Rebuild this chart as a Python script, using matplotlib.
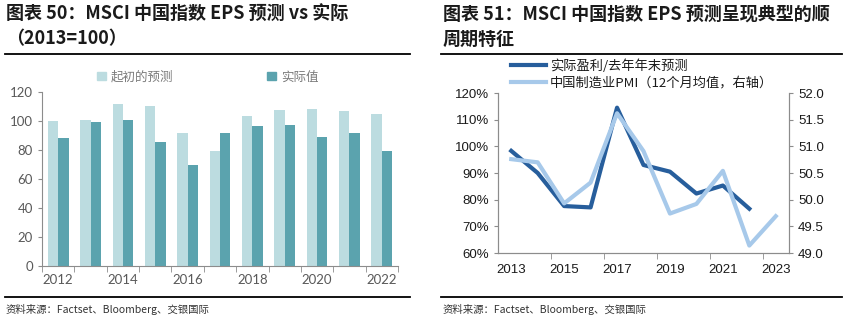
import matplotlib
matplotlib.use("Agg")
import matplotlib.pyplot as plt
from matplotlib.lines import Line2D
from matplotlib.patches import Patch
import numpy as np

plt.rcParams['font.family'] = ['Noto Sans CJK SC', 'DejaVu Sans']

# left panel: EPS forecast vs actual (2013=100)
bar_years = list(range(2012, 2023))
initial_forecast = [100, 101, 112, 110.5, 91.5, 79.5, 103.5, 107.5, 108.5, 107, 104.5]
actual_value = [88, 99, 101, 85.5, 70, 91.5, 96.5, 97.5, 89, 91.5, 79]

# right panel: actual / prior year-end forecast, PMI 12m average
line_years = list(range(2013, 2024))
eps_ratio = [98.3, 90, 77.6, 77.1, 114.5, 93, 90.5, 82.3, 85.3, 76.6]
pmi_avg = [50.76, 50.70, 49.93, 50.32, 51.62, 50.91, 49.74, 49.92, 50.54, 49.14, 49.69]

light_bar = '#BCDCE0'
dark_bar = '#5BA3AE'
dark_line = '#275E9C'
light_line = '#A7C9EA'
axis_grey = '#8C8C8C'
label_grey = '#595959'

fig = plt.figure(figsize=(8.44, 3.22), dpi=100)

# titles and rules
title_kw = dict(fontsize=13, fontweight='bold', color='#1a1a1a', va='center')
fig.text(6 / 844, 1 - 14 / 322, '图表 50：MSCI 中国指数 EPS 预测 vs 实际', **title_kw)
fig.text(6 / 844, 1 - 39 / 322, '（2013=100）', **title_kw)
fig.text(443 / 844, 1 - 14 / 322, '图表 51：MSCI 中国指数 EPS 预测呈现典型的顺', **title_kw)
fig.text(443 / 844, 1 - 39 / 322, '周期特征', **title_kw)

for x0, x1 in [(5, 410), (441, 842)]:
    for y in [54, 297]:
        fig.add_artist(Line2D([x0 / 844, x1 / 844], [1 - y / 322, 1 - y / 322],
                              color='black', lw=1.3))

src = '资料来源：Factset、Bloomberg、交银国际'
fig.text(6 / 844, 1 - 309 / 322, src, fontsize=7.5, style='italic', color='#333333', va='center')
fig.text(443 / 844, 1 - 309 / 322, src, fontsize=7.5, style='italic', color='#333333', va='center')

# ---- bar chart ----
ax1 = fig.add_axes([42 / 844, 1 - 266 / 322, 356 / 844, 174 / 322])
x = np.arange(len(bar_years))
w = 0.32
ax1.bar(x - w / 2, initial_forecast, width=w, color=light_bar)
ax1.bar(x + w / 2, actual_value, width=w, color=dark_bar)
ax1.set_xlim(-0.5, len(bar_years) - 0.5)
ax1.set_ylim(0, 120)
ax1.set_yticks(range(0, 121, 20))
ax1.set_xticks(x[::2])
ax1.set_xticklabels([str(y) for y in bar_years[::2]])
ax1.set_xticks(np.arange(-0.5, len(bar_years)), minor=True)
ax1.tick_params(axis='x', which='major', length=0, pad=6)
ax1.tick_params(axis='x', which='minor', length=4, color=axis_grey, direction='out')
ax1.tick_params(axis='y', length=3, color=axis_grey)
ax1.tick_params(labelsize=9.5, labelcolor=label_grey)
for lab in ax1.get_xticklabels() + ax1.get_yticklabels():
    lab.set_family(['Lato', 'DejaVu Sans'])
for s in ['top', 'right']:
    ax1.spines[s].set_visible(False)
for s in ['left', 'bottom']:
    ax1.spines[s].set_color(axis_grey)

fig.legend(handles=[Patch(color=light_bar, label='起初的预测')],
           loc='center left', bbox_to_anchor=(86 / 844, 1 - 77 / 322),
           frameon=False, fontsize=9, handlelength=0.7, handleheight=0.7,
           handletextpad=0.4, labelcolor='#7a7a7a')
fig.legend(handles=[Patch(color=dark_bar, label='实际值')],
           loc='center left', bbox_to_anchor=(256 / 844, 1 - 77 / 322),
           frameon=False, fontsize=9, handlelength=0.7, handleheight=0.7,
           handletextpad=0.4, labelcolor='#7a7a7a')

# ---- line chart ----
ax2 = fig.add_axes([498 / 844, 1 - 253 / 322, 291 / 844, 160 / 322])
ax3 = ax2.twinx()
xl = np.arange(len(line_years))
l1, = ax2.plot(xl[:len(eps_ratio)], eps_ratio, color=dark_line, lw=3)
l2, = ax3.plot(xl, pmi_avg, color=light_line, lw=3)
ax2.set_xlim(-0.5, len(line_years) - 0.5)
ax2.set_ylim(60, 120)
ax2.set_yticks(range(60, 121, 10))
ax2.set_yticklabels([f'{v}%' for v in range(60, 121, 10)])
ax3.set_ylim(49.0, 52.0)
ax3.set_yticks(np.arange(49.0, 52.01, 0.5))
ax3.set_yticklabels([f'{v:.1f}' for v in np.arange(49.0, 52.01, 0.5)])
ax2.set_xticks(xl[::2])
ax2.set_xticklabels([str(y) for y in line_years[::2]])
ax2.set_xticks(np.arange(1.5, len(line_years) - 1, 2), minor=True)
ax2.tick_params(axis='x', which='major', length=0, pad=8)
ax2.tick_params(axis='x', which='minor', length=4, color=axis_grey)
ax2.tick_params(axis='y', length=3, color=axis_grey)
ax3.tick_params(axis='y', length=3, color=axis_grey)
for a in (ax2, ax3):
    a.tick_params(labelsize=9.5, labelcolor='#1a1a1a')
    for lab in a.get_xticklabels() + a.get_yticklabels():
        lab.set_family(['Liberation Sans', 'DejaVu Sans'])
    a.spines['top'].set_visible(False)
    for s in ['left', 'right', 'bottom']:
        a.spines[s].set_color(axis_grey)

fig.legend([l1, l2], ['实际盈利/去年年末预测', '中国制造业PMI（12个月均值，右轴）'],
           loc='upper left', bbox_to_anchor=(506 / 844, 1 - 54 / 322),
           frameon=False, fontsize=9.5, handlelength=2.6, handletextpad=0.3,
           labelspacing=0.3, borderaxespad=0, labelcolor='#1a1a1a')

fig.savefig('out.png', dpi=100)
